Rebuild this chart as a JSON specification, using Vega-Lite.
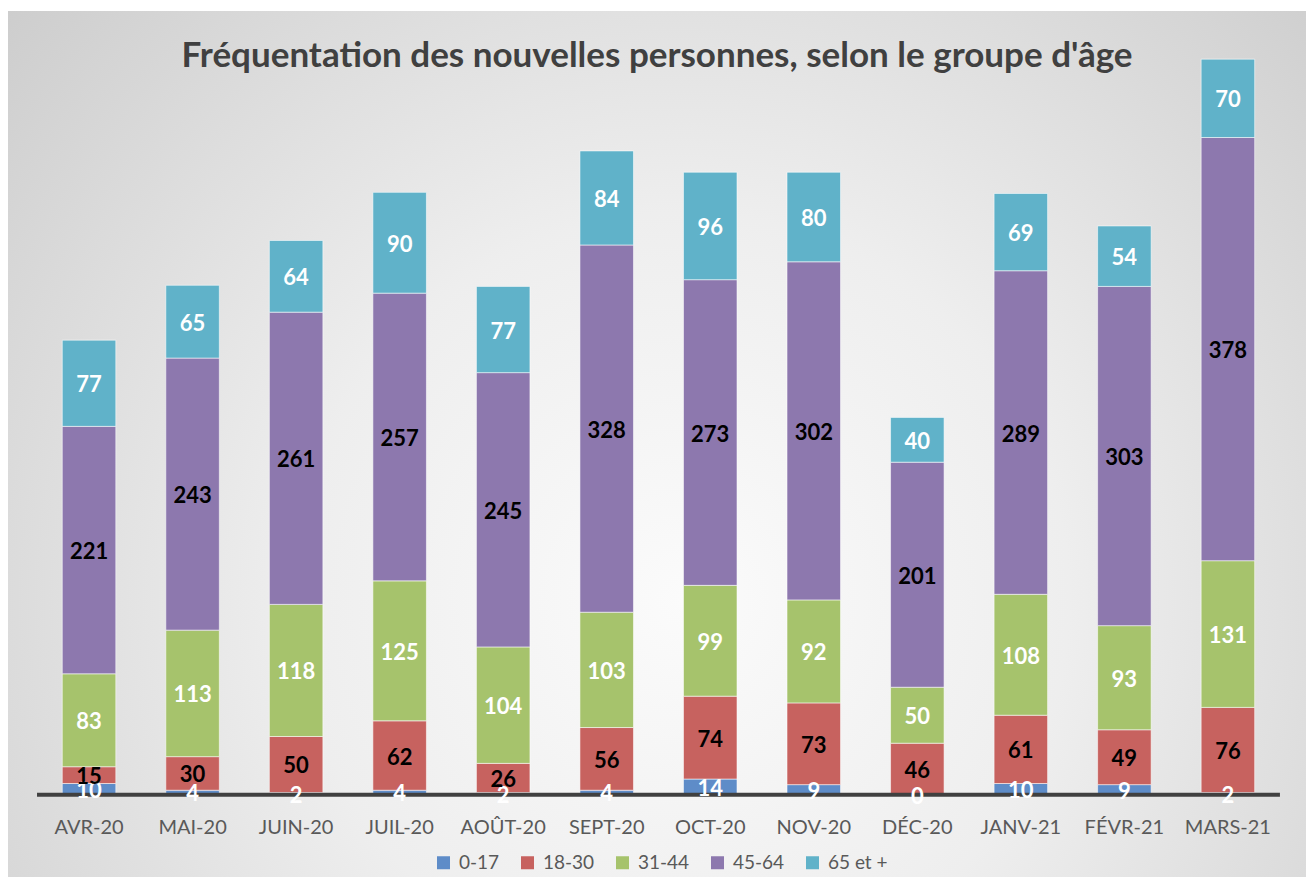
{
  "$schema": "https://vega.github.io/schema/vega-lite/v6.json",
  "width": 1298,
  "height": 866,
  "autosize": {"type": "none"},
  "padding": {"left": 8, "top": 11, "right": 0, "bottom": 0},
  "background": "#ffffff",
  "title": {
    "text": "Fréquentation des nouvelles personnes, selon le groupe d'âge",
    "font": "Lato",
    "fontSize": 35,
    "fontWeight": "bold",
    "color": "#404040",
    "anchor": "middle",
    "frame": "group",
    "baseline": "alphabetic",
    "offset": -91
  },
  "data": {
    "values": [
      {"m": "AVR-20", "g": "0-17", "v": 10}, {"m": "AVR-20", "g": "18-30", "v": 15}, {"m": "AVR-20", "g": "31-44", "v": 83}, {"m": "AVR-20", "g": "45-64", "v": 221}, {"m": "AVR-20", "g": "65 et +", "v": 77},
      {"m": "MAI-20", "g": "0-17", "v": 4}, {"m": "MAI-20", "g": "18-30", "v": 30}, {"m": "MAI-20", "g": "31-44", "v": 113}, {"m": "MAI-20", "g": "45-64", "v": 243}, {"m": "MAI-20", "g": "65 et +", "v": 65},
      {"m": "JUIN-20", "g": "0-17", "v": 2}, {"m": "JUIN-20", "g": "18-30", "v": 50}, {"m": "JUIN-20", "g": "31-44", "v": 118}, {"m": "JUIN-20", "g": "45-64", "v": 261}, {"m": "JUIN-20", "g": "65 et +", "v": 64},
      {"m": "JUIL-20", "g": "0-17", "v": 4}, {"m": "JUIL-20", "g": "18-30", "v": 62}, {"m": "JUIL-20", "g": "31-44", "v": 125}, {"m": "JUIL-20", "g": "45-64", "v": 257}, {"m": "JUIL-20", "g": "65 et +", "v": 90},
      {"m": "AOÛT-20", "g": "0-17", "v": 2}, {"m": "AOÛT-20", "g": "18-30", "v": 26}, {"m": "AOÛT-20", "g": "31-44", "v": 104}, {"m": "AOÛT-20", "g": "45-64", "v": 245}, {"m": "AOÛT-20", "g": "65 et +", "v": 77},
      {"m": "SEPT-20", "g": "0-17", "v": 4}, {"m": "SEPT-20", "g": "18-30", "v": 56}, {"m": "SEPT-20", "g": "31-44", "v": 103}, {"m": "SEPT-20", "g": "45-64", "v": 328}, {"m": "SEPT-20", "g": "65 et +", "v": 84},
      {"m": "OCT-20", "g": "0-17", "v": 14}, {"m": "OCT-20", "g": "18-30", "v": 74}, {"m": "OCT-20", "g": "31-44", "v": 99}, {"m": "OCT-20", "g": "45-64", "v": 273}, {"m": "OCT-20", "g": "65 et +", "v": 96},
      {"m": "NOV-20", "g": "0-17", "v": 9}, {"m": "NOV-20", "g": "18-30", "v": 73}, {"m": "NOV-20", "g": "31-44", "v": 92}, {"m": "NOV-20", "g": "45-64", "v": 302}, {"m": "NOV-20", "g": "65 et +", "v": 80},
      {"m": "DÉC-20", "g": "0-17", "v": 0}, {"m": "DÉC-20", "g": "18-30", "v": 46}, {"m": "DÉC-20", "g": "31-44", "v": 50}, {"m": "DÉC-20", "g": "45-64", "v": 201}, {"m": "DÉC-20", "g": "65 et +", "v": 40},
      {"m": "JANV-21", "g": "0-17", "v": 10}, {"m": "JANV-21", "g": "18-30", "v": 61}, {"m": "JANV-21", "g": "31-44", "v": 108}, {"m": "JANV-21", "g": "45-64", "v": 289}, {"m": "JANV-21", "g": "65 et +", "v": 69},
      {"m": "FÉVR-21", "g": "0-17", "v": 9}, {"m": "FÉVR-21", "g": "18-30", "v": 49}, {"m": "FÉVR-21", "g": "31-44", "v": 93}, {"m": "FÉVR-21", "g": "45-64", "v": 303}, {"m": "FÉVR-21", "g": "65 et +", "v": 54},
      {"m": "MARS-21", "g": "0-17", "v": 2}, {"m": "MARS-21", "g": "18-30", "v": 76}, {"m": "MARS-21", "g": "31-44", "v": 131}, {"m": "MARS-21", "g": "45-64", "v": 378}, {"m": "MARS-21", "g": "65 et +", "v": 70}
    ]
  },
  "encoding": {
    "x": {
      "field": "m",
      "type": "nominal",
      "scale": {
        "domain": ["AVR-20", "MAI-20", "JUIN-20", "JUIL-20", "AOÛT-20", "SEPT-20", "OCT-20", "NOV-20", "DÉC-20", "JANV-21", "FÉVR-21", "MARS-21"],
        "paddingInner": 0.483,
        "paddingOuter": 0.51,
        "align": 0.514
      },
      "axis": {
        "orient": "bottom",
        "offset": -82,
        "domain": false,
        "ticks": false,
        "grid": false,
        "title": null,
        "labelAngle": 0,
        "labelPadding": 22,
        "labelFont": "Lato",
        "labelFontSize": 20,
        "labelColor": "#595959"
      }
    }
  },
  "layer": [
    {
      "mark": {"type": "bar", "stroke": "#ffffff", "strokeOpacity": 0.55, "strokeWidth": 1},
      "encoding": {
        "y": {
          "field": "v",
          "type": "quantitative",
          "stack": "zero",
          "scale": {"domain": [-73.5, 700], "nice": false, "zero": false},
          "axis": null
        },
        "order": {"field": "g", "type": "ordinal", "sort": "ascending"},
        "color": {
          "field": "g",
          "type": "nominal",
          "scale": {
            "domain": ["0-17", "18-30", "31-44", "45-64", "65 et +"],
            "range": ["#5e8cc8", "#c7625f", "#a6c36c", "#8d78ae", "#60b2c9"]
          },
          "legend": {
            "orient": "none",
            "legendX": 426,
            "legendY": 842,
            "direction": "horizontal",
            "title": null,
            "padding": 0,
            "symbolType": "square",
            "symbolSize": 169,
            "symbolStrokeWidth": 0,
            "labelFont": "Lato",
            "labelFontSize": 19,
            "labelColor": "#595959",
            "labelOffset": 6,
            "columnPadding": 18
          }
        }
      }
    },
    {
      "data": {"values": [{}]},
      "mark": {"type": "rule", "color": "#404040", "strokeWidth": 4},
      "encoding": {
        "x": {"datum": "AVR-20", "bandPosition": -0.472},
        "x2": {"datum": "MARS-21", "bandPosition": 1.472},
        "y": {"datum": 0, "type": "quantitative"}
      }
    },
    {
      "mark": {"type": "text", "font": "Lato", "fontSize": 22, "fontWeight": "bold", "baseline": "middle", "dy": 2},
      "encoding": {
        "y": {"field": "v", "type": "quantitative", "stack": "zero", "bandPosition": 0.5},
        "order": {"field": "g", "type": "ordinal", "sort": "ascending"},
        "detail": {"field": "g"},
        "text": {"field": "v", "type": "quantitative"},
        "color": {
          "condition": {"test": "datum.g === '18-30' || datum.g === '45-64'", "value": "#000000"},
          "value": "#ffffff"
        }
      }
    }
  ],
  "config": {
    "view": {
      "stroke": null,
      "fill": {
        "gradient": "radial",
        "x1": 0.52, "y1": 0.62, "r1": 0,
        "x2": 0.52, "y2": 0.62, "r2": 0.85,
        "stops": [
          {"offset": 0, "color": "#fbfbfb"},
          {"offset": 0.35, "color": "#eeeeee"},
          {"offset": 1, "color": "#c0c0c0"}
        ]
      }
    }
  }
}
